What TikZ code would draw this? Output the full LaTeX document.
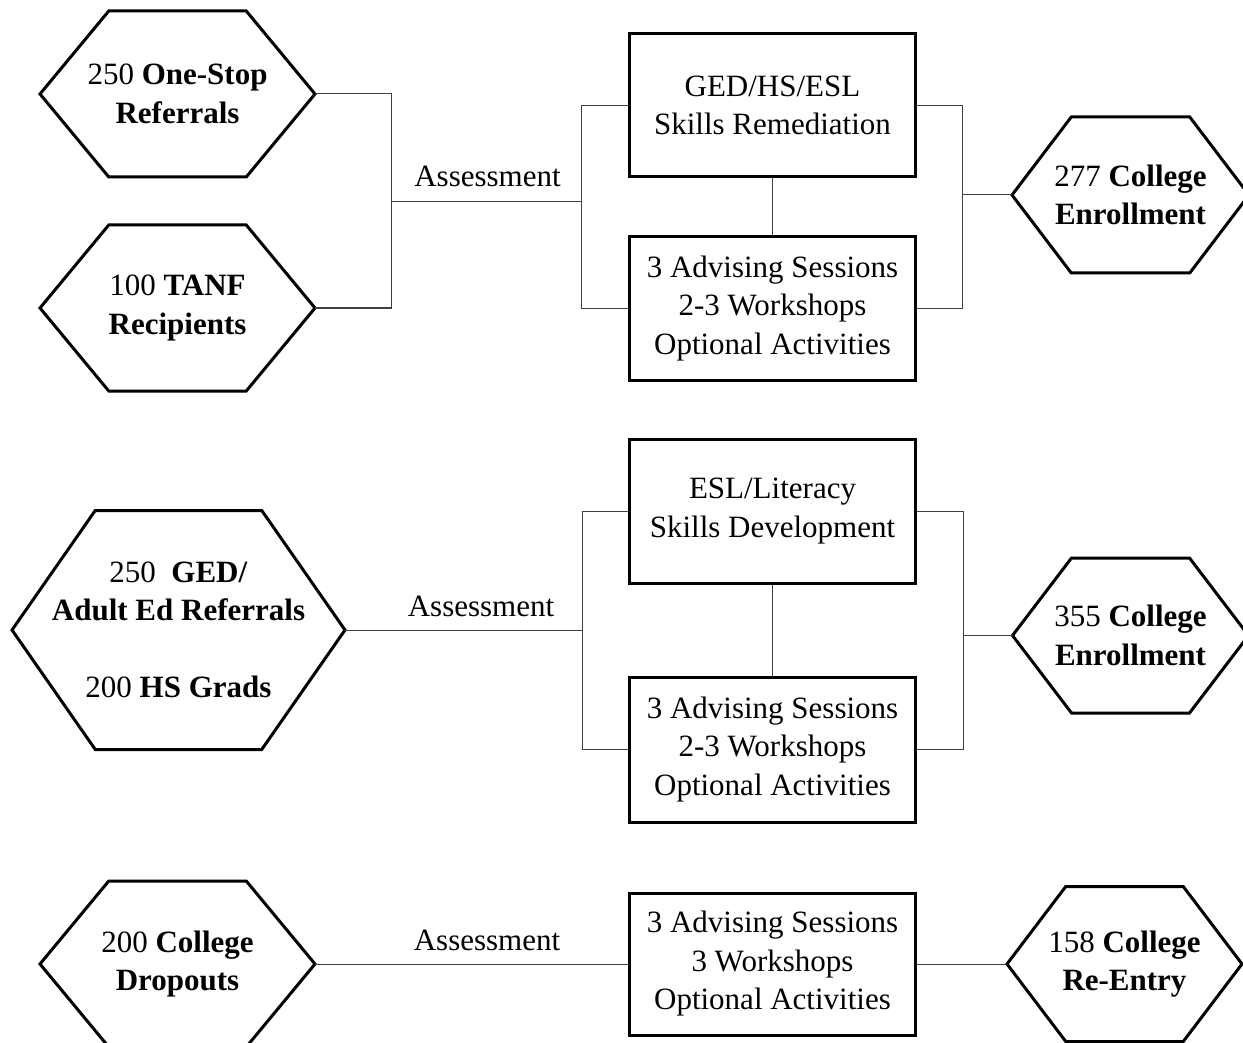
\documentclass[tikz,border=0pt]{standalone}
\usepackage{fontspec}
\setmainfont{Liberation Serif}
\usetikzlibrary{calc}
\newcommand\diagfont{\fontsize{31}{38.5}\selectfont}
\newcommand\hexnode[6]{%
  \node[hexbox, minimum width=#4pt, minimum height=#5pt] (#1) at (#2,#3) {#6};
  \draw[hexline] (#1.west)
    -- ($(#1.north west)!0.25!(#1.north east)$)
    -- ($(#1.north west)!0.75!(#1.north east)$)
    -- (#1.east)
    -- ($(#1.south west)!0.75!(#1.south east)$)
    -- ($(#1.south west)!0.25!(#1.south east)$)
    -- cycle;}
\tikzset{
  hexbox/.style={shape=rectangle, inner sep=0pt, outer sep=0pt, align=center, font=\diagfont},
  hexline/.style={line width=3pt, line join=miter, draw=black},
  stepbox/.style={draw=black, line width=3pt, line join=miter, inner sep=0pt, outer sep=1.5pt,
    minimum width=286pt, align=center, font=\diagfont},
  conn/.style={line width=1pt, draw=black!75},
  lbl/.style={inner sep=0pt, font=\diagfont}
}
\begin{document}
\begin{tikzpicture}[x=1pt, y=-1pt]
\useasboundingbox (0,0) rectangle (1243,1043);
\clip (0,0) rectangle (1243,1043);
\fill[white] (0,0) rectangle (1243,1043);

% ---------- Row 1 ----------
\hexnode{A}{177.5}{94}{275}{166}{250 \textbf{One-Stop}\\\textbf{Referrals}}
\hexnode{B}{177.5}{308}{275}{166}{100 \textbf{TANF}\\\textbf{Recipients}}
\node[stepbox, minimum height=143pt] (b1) at (772.5,105.5) {GED/HS/ESL\\Skills Remediation};
\node[stepbox, minimum height=143pt] (b2) at (772.5,308.5) {3 Advising Sessions\\2-3 Workshops\\Optional Activities};
\hexnode{C}{1130.5}{195}{237}{156}{277 \textbf{College}\\\textbf{Enrollment}}
\node[lbl] (as1) at (487.5,176) {Assessment};

\coordinate (lb1) at (391.5,201.5);
\coordinate (bb1) at (581.5,201.5);
\coordinate (rb1) at (962.5,195);
\draw[conn] (A.east) -- (A.east -| lb1) -- (B.east -| lb1) -- (B.east);
\draw[conn] (lb1) -- (bb1);
\draw[conn] (b1.west) -- (b1.west -| bb1) -- (b2.west -| bb1) -- (b2.west);
\draw[conn] (b1.south) -- (b2.north);
\draw[conn] (b1.east) -- (b1.east -| rb1) -- (b2.east -| rb1) -- (b2.east);
\draw[conn] (rb1) -- (C.west);

% ---------- Row 2 ----------
\hexnode{D}{178.5}{630}{333}{239}{250\ \ \textbf{GED/}\\\textbf{Adult Ed Referrals}\\[38.5pt]200 \textbf{HS Grads}}
\node[stepbox, minimum height=144pt] (b3) at (772.5,511) {ESL/Literacy\\Skills Development};
\node[stepbox, minimum height=145pt] (b4) at (772.5,749.5) {3 Advising Sessions\\2-3 Workshops\\Optional Activities};
\hexnode{E}{1130.5}{635.5}{236}{155}{355 \textbf{College}\\\textbf{Enrollment}}
\node[lbl] (as2) at (481,606) {Assessment};

\coordinate (bb2) at (582,630);
\coordinate (rb2) at (963,635.5);
\draw[conn] (D.east) -- (bb2);
\draw[conn] (b3.west) -- (b3.west -| bb2) -- (b4.west -| bb2) -- (b4.west);
\draw[conn] (b3.south) -- (b4.north);
\draw[conn] (b3.east) -- (b3.east -| rb2) -- (b4.east -| rb2) -- (b4.east);
\draw[conn] (rb2) -- (E.west);

% ---------- Row 3 ----------
\hexnode{F}{177.5}{964}{275}{166}{200 \textbf{College}\\\textbf{Dropouts}}
\node[stepbox, minimum height=142pt] (b5) at (772.5,964) {3 Advising Sessions\\3 Workshops\\Optional Activities};
\hexnode{G}{1124.5}{964}{235}{155}{158 \textbf{College}\\\textbf{Re-Entry}}
\node[lbl] (as3) at (487,940) {Assessment};

\draw[conn] (F.east) -- (b5.west);
\draw[conn] (b5.east) -- (G.west);
\end{tikzpicture}
\end{document}
